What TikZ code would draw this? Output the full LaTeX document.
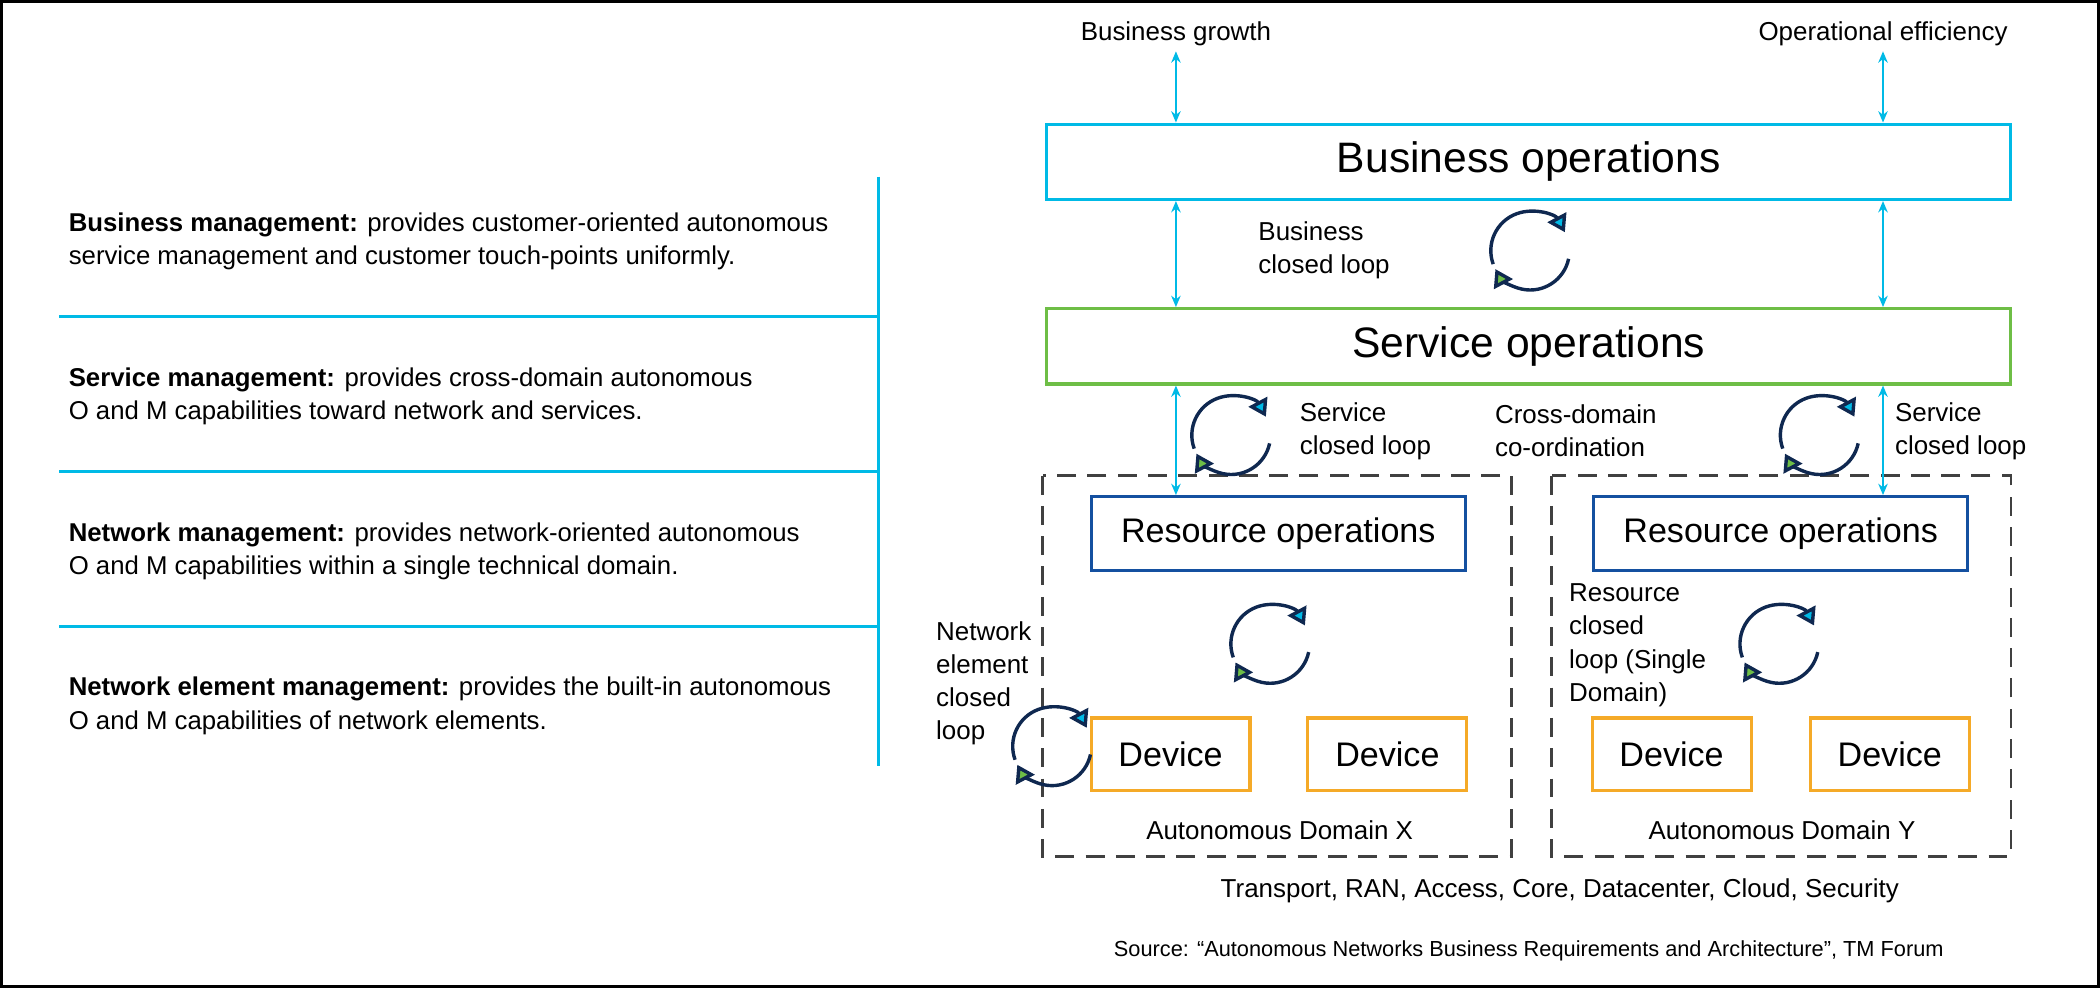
\documentclass[tikz,border=0pt]{standalone}
\usepackage{fontspec}
\setmainfont{Liberation Sans}
\usetikzlibrary{arrows.meta}
\definecolor{cblue}{RGB}{0,186,230}
\definecolor{cgreen}{RGB}{110,190,70}
\definecolor{cnavy}{RGB}{15,40,80}
\definecolor{cdblue}{RGB}{20,80,160}
\definecolor{corange}{RGB}{245,170,40}
\tikzset{layer/.style={draw,line width=1.6pt,minimum width=179mm,minimum height=14mm,font=\fontsize{22.5}{27}\selectfont}}
\tikzset{resbox/.style={draw=cdblue,line width=1.6pt,minimum width=69.5mm,minimum height=13.7mm,font=\fontsize{18}{22}\selectfont}}
\tikzset{device/.style={draw=corange,line width=1.6pt,minimum width=29.5mm,minimum height=13.5mm,font=\fontsize{18}{22}\selectfont}}
\tikzset{twoway/.style={cblue,line width=1.2pt,{Stealth[length=6pt,width=5pt]}-{Stealth[length=6pt,width=5pt]}}}
\tikzset{label/.style={font=\fontsize{13.7}{17.5}\selectfont,align=left}}
\tikzset{desc/.style={anchor=west,font=\fontsize{13.6}{17.5}\selectfont,align=left}}
\newcommand\loopicon[1]{%
  \draw[cnavy,line width=1.8pt,-{Triangle[length=9pt,width=11pt,fill=cblue]}] (#1) ++(200:7.3mm) arc (200:28:7.3mm);
  \draw[cnavy,line width=1.8pt,-{Triangle[length=9pt,width=11pt,fill=cgreen]}] (#1) ++(-12:7.3mm) arc (-12:-152:7.3mm);}
\begin{document}
\begin{tikzpicture}[x=0.25mm,y=-0.25mm]
\draw[line width=1.6pt] (5,5) rectangle (1562,736);
% left side
\draw[cblue,line width=1.4pt] (656,135) -- (656,573);
\foreach \y in {239,354,469} \draw[cblue,line width=1.4pt] (48,\y) -- (656,\y);
\node[desc] (bm) at (50,183) {\textbf{Business management:} provides customer-oriented autonomous\\service management and customer touch-points uniformly.};
\node[desc] (sm) at (50,298) {\textbf{Service management:} provides cross-domain autonomous\\O and M capabilities toward network and services.};
\node[desc] (nm) at (50,413) {\textbf{Network management:} provides network-oriented autonomous\\O and M capabilities within a single technical domain.};
\node[desc] (nem) at (50,528) {\textbf{Network element management:} provides the built-in autonomous\\O and M capabilities of network elements.};
% layers
\node[layer,draw=cblue] (bo) at (1139,124) {Business operations};
\node[layer,draw=cgreen] (so) at (1139,261) {Service operations};
\node[label] (growth) at (877,29) {Business growth};
\node[label] (eff) at (1402,29) {Operational efficiency};
\coordinate (g1) at (877,42); \coordinate (e1) at (1402,42);
\draw[twoway] (g1) -- (g1 |- bo.north);
\draw[twoway] (e1) -- (e1 |- bo.north);
\draw[twoway] (g1 |- bo.south) -- (g1 |- so.north);
\draw[twoway] (e1 |- bo.south) -- (e1 |- so.north);
\node[label] (bcl) at (987,190) {Business\\closed loop};
\coordinate (l1) at (1140,190); \loopicon{l1}
% domains
\draw[dashed,dash pattern=on 10pt off 6pt,line width=1.5pt,black!75] (778,357) rectangle (1126,640);
\draw[dashed,dash pattern=on 10pt off 6pt,line width=1.5pt,black!75] (1156,357) rectangle (1497,640);
\node[resbox] (rx) at (953,400) {Resource operations};
\node[resbox] (ry) at (1326,400) {Resource operations};
\draw[twoway] (g1 |- so.south) -- (g1 |- rx.north);
\draw[twoway] (e1 |- so.south) -- (e1 |- ry.north);
\coordinate (l2) at (918,327); \loopicon{l2}
\coordinate (l3) at (1355,327); \loopicon{l3}
\node[label,anchor=west] (scl1) at (964,324) {Service\\closed loop};
\node[label,anchor=west] (scl2) at (1406,324) {Service\\closed loop};
\node[label,anchor=west] (cdc) at (1109,324) {Cross-domain\\co-ordination};
\coordinate (l4) at (947,482); \loopicon{l4}
\coordinate (l5) at (1325,482); \loopicon{l5}
\node[label,anchor=west] (necl) at (694,511) {Network\\element\\closed\\loop};
\node[label,anchor=west] (rcl) at (1164,483) {Resource\\closed\\loop (Single\\Domain)};
\node[device] (d1) at (873,564) {Device};
\node[device] (d2) at (1034,564) {Device};
\node[device] (d3) at (1245,564) {Device};
\node[device] (d4) at (1407,564) {Device};
\coordinate (l6) at (785,558); \loopicon{l6}
\node[label] (dx) at (954,620) {Autonomous Domain X};
\node[label] (dy) at (1327,620) {Autonomous Domain Y};
\node[label] (tr) at (1162,665) {Transport, RAN, Access, Core, Datacenter, Cloud, Security};
\node[font=\fontsize{11.5}{14}\selectfont] (src) at (1139,710) {Source: “Autonomous Networks Business Requirements and Architecture", TM Forum};
\end{tikzpicture}
\end{document}
